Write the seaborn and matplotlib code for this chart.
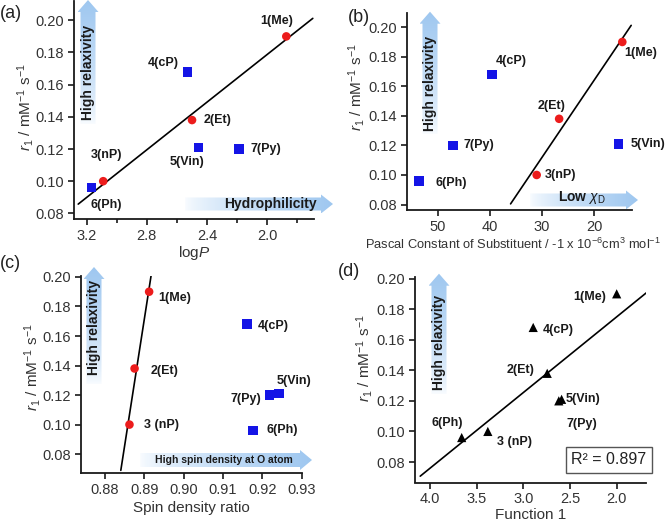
import matplotlib

matplotlib.use("Agg")
import matplotlib.pyplot as plt
import numpy as np
import pandas as pd
import seaborn as sns
from matplotlib.patches import Polygon
from matplotlib.ticker import FormatStrFormatter, MultipleLocator

# values
compounds = ["1(Me)", "2(Et)", "3(nP)", "4(cP)", "5(Vin)", "6(Ph)", "7(Py)"]
labels_cd = ["1(Me)", "2(Et)", "3 (nP)", "4(cP)", "5(Vin)", "6(Ph)", "7(Py)"]
r1 = [0.190, 0.138, 0.100, 0.168, 0.121, 0.096, 0.120]
log_p = [1.874, 2.50, 3.09, 2.53, 2.456, 3.167, 2.19]
pascal = [14.6, 26.7, 31.0, 39.6, 15.3, 53.5, 47.0]
spin_ratio = [0.8912, 0.8875, 0.8862, 0.9161, 0.9242, 0.9176, 0.9218]
function1 = [2.00, 2.744, 3.38, 2.894, 2.59, 3.66, 2.62]
alkyl = [True, True, True, False, False, False, False]

r1_ticks = [0.08, 0.10, 0.12, 0.14, 0.16, 0.18, 0.20]
logp_ticks = [3.2, 2.8, 2.4, 2.0]
pascal_ticks = [50, 40, 30, 20]
spin_ticks = [0.88, 0.89, 0.90, 0.91, 0.92, 0.93]
func_ticks = [4.0, 3.5, 3.0, 2.5, 2.0]
r_squared = 0.897

W, H = 666, 524
INK = "#1a1a1a"
RED = "#ec1c1c"
BLUE = "#1414e6"

df = pd.DataFrame(
    dict(
        compound=compounds, label_cd=labels_cd, r1=r1, logP=log_p,
        pascal=pascal, spin=spin_ratio, func1=function1,
        group=np.where(alkyl, "alkyl", "other"),
    )
)

sns.set_theme(style="ticks")
plt.rcParams["font.family"] = ["Liberation Sans", "DejaVu Sans"]
plt.rcParams["mathtext.fontset"] = "custom"
plt.rcParams["mathtext.rm"] = "Liberation Sans"
plt.rcParams["mathtext.it"] = "Liberation Sans:italic"
plt.rcParams["mathtext.bf"] = "Liberation Sans:bold"

fig = plt.figure(figsize=(W / 100, H / 100), dpi=100)
fig.patch.set_facecolor("white")

# pixel-space overlay for the gradient arrows and panel letters
ov = fig.add_axes([0, 0, 1, 1], zorder=0)
ov.set_xlim(0, W)
ov.set_ylim(H, 0)
ov.set_autoscale_on(False)
ov.axis("off")


def px_axes(left, top, right, bottom):
    ax = fig.add_axes(
        [left / W, 1 - bottom / H, (right - left) / W, (bottom - top) / H], zorder=1
    )
    ax.set_facecolor("none")
    return ax


def grad_arrow(tail, tip, shaft=15, head=21, head_len=12):
    t = np.array(tail, float)
    p = np.array(tip, float)
    u = (p - t) / np.hypot(*(p - t))
    n = np.array([-u[1], u[0]])
    b = p - u * head_len
    pts = [t + n * shaft / 2, b + n * shaft / 2, b + n * head / 2, p,
           b - n * head / 2, b - n * shaft / 2, t - n * shaft / 2]
    poly = Polygon(pts, closed=True, facecolor="none", edgecolor="none",
                   transform=ov.transData)
    ov.add_patch(poly)
    c0 = np.array([0.98, 0.99, 1.0])
    c1 = np.array([0.62, 0.78, 0.94])
    frac = np.linspace(0, 1, 256) ** 0.7
    cols = c0 + (c1 - c0) * frac[:, None]
    xs = [q[0] for q in pts]
    ys = [q[1] for q in pts]
    if abs(u[0]) > abs(u[1]):  # horizontal, tail on the left
        img = cols[None, :, :]
        extent = (t[0], p[0], max(ys), min(ys))
    else:  # vertical, tip at the top
        img = cols[::-1][:, None, :]
        extent = (min(xs), max(xs), t[1], p[1])
    ov.imshow(img, extent=extent, aspect="auto", interpolation="bilinear",
              clip_path=poly, zorder=1)


def arrow_text(x, y, s, rotation=0, size=10):
    ov.text(x, y, s, rotation=rotation, ha="center", va="center",
            fontsize=size, fontweight="bold", color=INK, zorder=2)


def style_axes(ax, xlim, ylim, xticks, xfmt, ylab_px):
    ax.set_xlim(*xlim)
    ax.set_ylim(*ylim)
    ax.set_xticks(xticks)
    ax.set_yticks(r1_ticks)
    ax.xaxis.set_major_formatter(FormatStrFormatter(xfmt))
    ax.yaxis.set_major_formatter(FormatStrFormatter("%.2f"))
    for side in ("top", "right"):
        ax.spines[side].set_visible(False)
    for side in ("left", "bottom"):
        ax.spines[side].set_linewidth(1.3)
        ax.spines[side].set_color(INK)
    ax.tick_params(which="both", direction="out", width=1.2, color=INK,
                   labelsize=10.5, labelcolor="#333333", pad=3)
    ax.tick_params(which="major", length=4)
    ax.tick_params(which="minor", length=3)
    ax.set_ylabel(r"$r_1$ / mM$^{-1}$ s$^{-1}$", fontsize=11, color="#333333")
    # ylabel anchor (right side of the rotated text) in figure pixels
    ax.yaxis.set_label_coords(ylab_px[0], ylab_px[1], transform=ov.transData)


def scatter_groups(ax, xcol):
    sns.scatterplot(data=df[df.group == "alkyl"], x=xcol, y="r1", ax=ax,
                    marker="o", color=RED, s=38, edgecolor="none", zorder=3)
    sns.scatterplot(data=df[df.group == "other"], x=xcol, y="r1", ax=ax,
                    marker="s", color=BLUE, s=48, edgecolor="none", zorder=3)


def fit_line(ax, sub, xcol, x_range):
    slope, icpt = np.polyfit(sub[xcol], sub["r1"], 1)
    xs = np.array(x_range)
    ax.plot(xs, slope * xs + icpt, color="black", lw=1.2, zorder=2)


def point_labels(ax, xcol, labcol, offsets_px):
    for _, row in df.iterrows():
        dx, dy = offsets_px[row["compound"]]
        ax.annotate(row[labcol], (row[xcol], row["r1"]),
                    xytext=(dx * 0.72, dy * 0.72), textcoords="offset points",
                    ha="center", va="center", fontsize=9, fontweight="bold",
                    color=INK, annotation_clip=False, zorder=4)


# ---- (a) logP ----
ax_a = px_axes(74, 1, 314, 219)
grad_arrow((88, 124), (88, 0))
grad_arrow((185, 204), (333, 204), shaft=13, head=19)
arrow_text(88, 72, "High relaxivity", rotation=90)
arrow_text(270, 204, "Hydrophilicity")
scatter_groups(ax_a, "logP")
fit_line(ax_a, df[df.group == "alkyl"], "logP", (3.256, 1.698))
point_labels(ax_a, "logP", "compound", {
    "1(Me)": (-10, 15), "2(Et)": (26, 0), "3(nP)": (3, 26), "4(cP)": (-24, 9),
    "5(Vin)": (-12, -15), "6(Ph)": (15, -17), "7(Py)": (27, 0)})
style_axes(ax_a, (3.284, 1.69), (0.0765, 0.212), logp_ticks, "%.1f", (36, 107))
ax_a.xaxis.set_minor_locator(MultipleLocator(0.2))
ax_a.set_xlabel(r"log$P$", fontsize=11, color="#333333", labelpad=1)

# ---- (b) Pascal constant ----
ax_b = px_axes(406.7, 13, 631.7, 210)
grad_arrow((430, 134), (430, 11.7))
grad_arrow((530, 200), (638, 200), shaft=13, head=19)
arrow_text(430, 83, "High relaxivity", rotation=90)
arrow_text(582, 198, r"Low $\chi_\mathrm{D}$")
scatter_groups(ax_b, "pascal")
fit_line(ax_b, df[df.group == "alkyl"], "pascal", (36.0, 12.9))
point_labels(ax_b, "pascal", "compound", {
    "1(Me)": (18, -11), "2(Et)": (-8, 13), "3(nP)": (24, 0), "4(cP)": (19, 13),
    "5(Vin)": (29, 0), "6(Ph)": (32, -2), "7(Py)": (26, 0)})
style_axes(ax_b, (55.9, 12.8), (0.0763, 0.2096), pascal_ticks, "%d", (367, 87))
ax_b.set_xlabel(
    r"Pascal Constant of Substituent / -1 x 10$^{-6}$cm$^{3}$ mol$^{-1}$",
    fontsize=9.3, color="#333333")
ax_b.xaxis.set_label_coords(513, 237, transform=ov.transData)

# ---- (c) spin density ratio ----
ax_c = px_axes(80.7, 275.5, 301.7, 473.3)
grad_arrow((94, 384), (94, 267))
grad_arrow((140, 460), (312, 460), shaft=14, head=20)
arrow_text(94, 327, "High relaxivity", rotation=90)
arrow_text(224, 460, "High spin density at O atom", size=7.5)
scatter_groups(ax_c, "spin")
fit_line(ax_c, df[df.group == "alkyl"], "spin", (0.884, 0.8917))
point_labels(ax_c, "spin", "label_cd", {
    "1(Me)": (26, -6), "2(Et)": (30, -3), "3(nP)": (32, 0), "4(cP)": (26, -2),
    "5(Vin)": (15, 13), "6(Ph)": (29, 0), "7(Py)": (-24, -4)})
style_axes(ax_c, (0.8738, 0.93), (0.067, 0.201), spin_ticks, "%.2f", (43, 367))
ax_c.set_xlabel("Spin density ratio", fontsize=11, color="#333333", labelpad=3)

# ---- (d) Function 1 ----
ax_d = px_axes(415, 277, 646, 482.5)
grad_arrow((439, 394), (439, 273.7))
arrow_text(439, 342, "High relaxivity", rotation=90)
sns.scatterplot(data=df, x="func1", y="r1", ax=ax_d, marker="^", color="black",
                s=44, edgecolor="none", zorder=3)
fit_line(ax_d, df, "func1", (4.104, 1.684))
point_labels(ax_d, "func1", "label_cd", {
    "1(Me)": (-27, -3), "2(Et)": (-27, 3), "3(nP)": (27, -11), "4(cP)": (25, -3),
    "5(Vin)": (21, 0), "6(Ph)": (-14, 15), "7(Py)": (23, -23)})
style_axes(ax_d, (4.16, 1.686), (0.0666, 0.201), func_ticks, "%.1f", (375, 358))
ax_d.set_xlabel("Function 1", fontsize=11, color="#333333", labelpad=1)
ov.text(609, 460, f"R\u00b2 = {r_squared:.3f}", ha="center", va="center",
        fontsize=11.5, color="#222222", zorder=2,
        bbox=dict(boxstyle="square,pad=0.35", fc="white", ec="#555555", lw=1))

# panel letters
for x, y, s in [(11, 13, "(a)"), (359, 18, "(b)"), (10, 263, "(c)"), (349, 272, "(d)")]:
    ov.text(x, y, s, ha="center", va="center", fontsize=13, color="#222222")

fig.savefig("out.png", dpi=100)
plt.close(fig)
